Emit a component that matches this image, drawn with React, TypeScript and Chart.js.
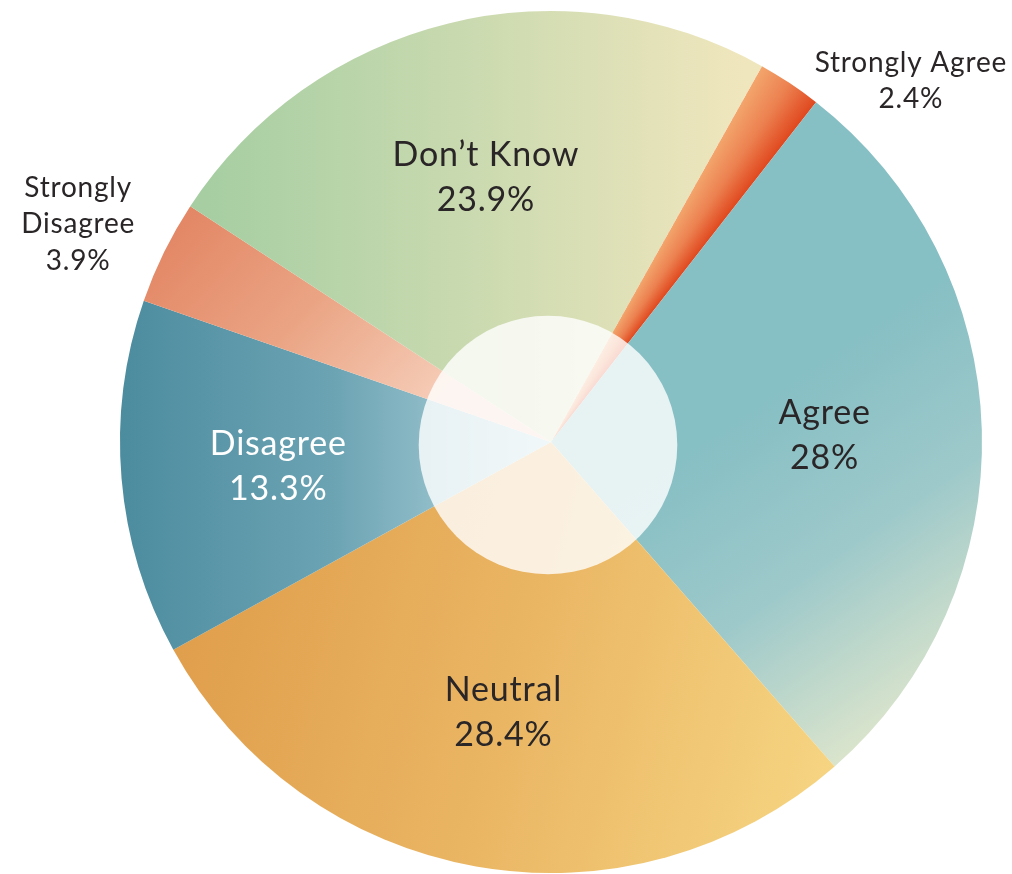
import React, { useEffect, useRef } from "react";
import { Chart, registerables } from "chart.js";

Chart.register(...registerables);

const categories = ["Strongly Agree", "Agree", "Neutral", "Disagree", "Strongly Disagree", "Don’t Know"];
const values = [2.4, 28, 28.4, 13.3, 3.9, 23.9];
const labelLines = [["Strongly Agree"], ["Agree"], ["Neutral"], ["Disagree"], ["Strongly", "Disagree"], ["Don’t Know"]];
const textColors = ["#2a2627", "#2a2627", "#2a2627", "#ffffff", "#2a2627", "#2a2627"];
const outsideLabel = [true, false, false, false, true, false];

// gradient styles: [type, x0, y0, x1, y1] in units of radius relative to centre; stops
const gradientGeom: any[] = [
  ["conic"],
  ["linear", 0.35, 0.0, 0.8, 0.65],
  ["linear", -0.85, 0.45, 0.65, 0.85],
  ["linear", -1.0, 0.0, -0.02, 0.0],
  ["linear", -0.85, -0.55, -0.3, -0.05],
  ["linear", -0.8, -0.6, 0.45, -0.6],
];
const gradientStops: string[][] = [
  ["#f3a56c", "#ec8150", "#e0481f"],
  ["#86bfc4", "#9ec9ca", "#dae4cc"],
  ["#e09f4c", "#eab664", "#f6d582"],
  ["#4c8c9f", "#6ba3b3", "#b6d7dd"],
  ["#e38664", "#eaa484", "#f6cdb8"],
  ["#a6cea2", "#cbdab0", "#f0e6bd"],
];

const FONT_FAMILY = `Lato, "Open Sans", sans-serif`;

function makeBg(ctx: any) {
  const chart = ctx.chart;
  const area = chart.chartArea;
  const i = ctx.dataIndex;
  if (!area) return gradientStops[i][0];
  const c = chart.ctx as CanvasRenderingContext2D;
  const cx = (area.left + area.right) / 2;
  const cy = (area.top + area.bottom) / 2;
  const r = Math.min(area.right - area.left, area.bottom - area.top) / 2;
  const g = gradientGeom[i];
  const stops = gradientStops[i];
  let grad: CanvasGradient;
  if (g[0] === "conic") {
    const total = values.reduce((a, b) => a + b, 0);
    let before = 0;
    for (let k = 0; k < i; k++) before += values[k];
    const rot = (chart.options.rotation ?? 0) as number;
    const startDeg = rot - 90 + (before / total) * 360;
    const spanFrac = values[i] / total;
    grad = (c as any).createConicGradient((startDeg * Math.PI) / 180, cx, cy);
    grad.addColorStop(0, stops[0]);
    grad.addColorStop(spanFrac * 0.5, stops[1]);
    grad.addColorStop(spanFrac, stops[2]);
    grad.addColorStop(Math.min(1, spanFrac + 0.01), stops[2]);
    return grad;
  }
  grad = c.createLinearGradient(cx + g[1] * r, cy + g[2] * r, cx + g[3] * r, cy + g[4] * r);
  grad.addColorStop(0, stops[0]);
  grad.addColorStop(0.5, stops[1]);
  grad.addColorStop(1, stops[2]);
  return grad;
}

const overlayPlugin = {
  id: "overlayAndLabels",
  afterDatasetsDraw(chart: any) {
    const ctx = chart.ctx as CanvasRenderingContext2D;
    const meta = chart.getDatasetMeta(0);
    const first = meta.data[0];
    if (!first) return;
    const cx = first.x;
    const cy = first.y;
    const R = first.outerRadius;
    ctx.save();
    ctx.beginPath();
    ctx.arc(cx - 3, cy + 3, R * 0.3, 0, Math.PI * 2);
    ctx.fillStyle = "rgba(255,255,255,0.8)";
    ctx.fill();
    ctx.restore();

    meta.data.forEach((arc: any, i: number) => {
      const mid = (arc.startAngle + arc.endAngle) / 2;
      const lines = [...labelLines[i], values[i] + "%"];
      ctx.save();
      ctx.fillStyle = textColors[i];
      (ctx as any).letterSpacing = "0.8px";
      if (!outsideLabel[i]) {
        const size = 34;
        const lh = 45;
        ctx.font = `400 ${size}px ${FONT_FAMILY}`;
        ctx.textAlign = "center";
        ctx.textBaseline = "alphabetic";
        const px = cx + Math.cos(mid) * R * 0.635;
        const py = cy + Math.sin(mid) * R * 0.635;
        const capH = size * 0.72;
        const blockH = capH + lh * (lines.length - 1);
        let base = py - blockH / 2 + capH;
        lines.forEach((t) => {
          ctx.fillText(t, px, base);
          base += lh;
        });
      } else {
        const size = 28;
        const lh = 36.5;
        ctx.font = `400 ${size}px ${FONT_FAMILY}`;
        ctx.textAlign = "center";
        ctx.textBaseline = "alphabetic";
        const ox = cx + Math.cos(mid) * R;
        const oy = cy + Math.sin(mid) * R;
        const w = Math.max(...lines.map((t) => ctx.measureText(t).width));
        let bx: number, by: number;
        if (Math.cos(mid) > 0) {
          bx = ox + 25 + w / 2;
          by = oy - 3;
        } else {
          bx = ox - 29 - w / 2;
          by = oy - 29;
        }
        const capH = size * 0.72;
        const blockH = capH + lh * (lines.length - 1);
        let base = by - blockH / 2 + capH;
        lines.forEach((t) => {
          ctx.fillText(t, bx, base);
          base += lh;
        });
      }
      ctx.restore();
    });
  },
};

export default function App() {
  const ref = useRef<HTMLCanvasElement | null>(null);
  useEffect(() => {
    document.body.style.margin = "0";
    const canvas = ref.current;
    if (!canvas) return;
    const chart = new Chart(canvas, {
      type: "pie",
      data: {
        labels: categories,
        datasets: [
          {
            data: values,
            backgroundColor: (ctx: any) => makeBg(ctx),
            borderWidth: 0,
            hoverOffset: 0,
          },
        ],
      },
      options: {
        responsive: false,
        animation: false,
        rotation: 29.3,
        layout: { padding: { left: 120, right: 30, top: 11, bottom: 1 } },
        plugins: {
          legend: { display: false },
          tooltip: { enabled: false },
        },
      },
      plugins: [overlayPlugin],
    } as any);
    return () => chart.destroy();
  }, []);
  return (
    <div style={{ width: 1012, height: 874, background: "#ffffff" }}>
      <canvas ref={ref} width={1012} height={874} style={{ display: "block" }} />
    </div>
  );
}
